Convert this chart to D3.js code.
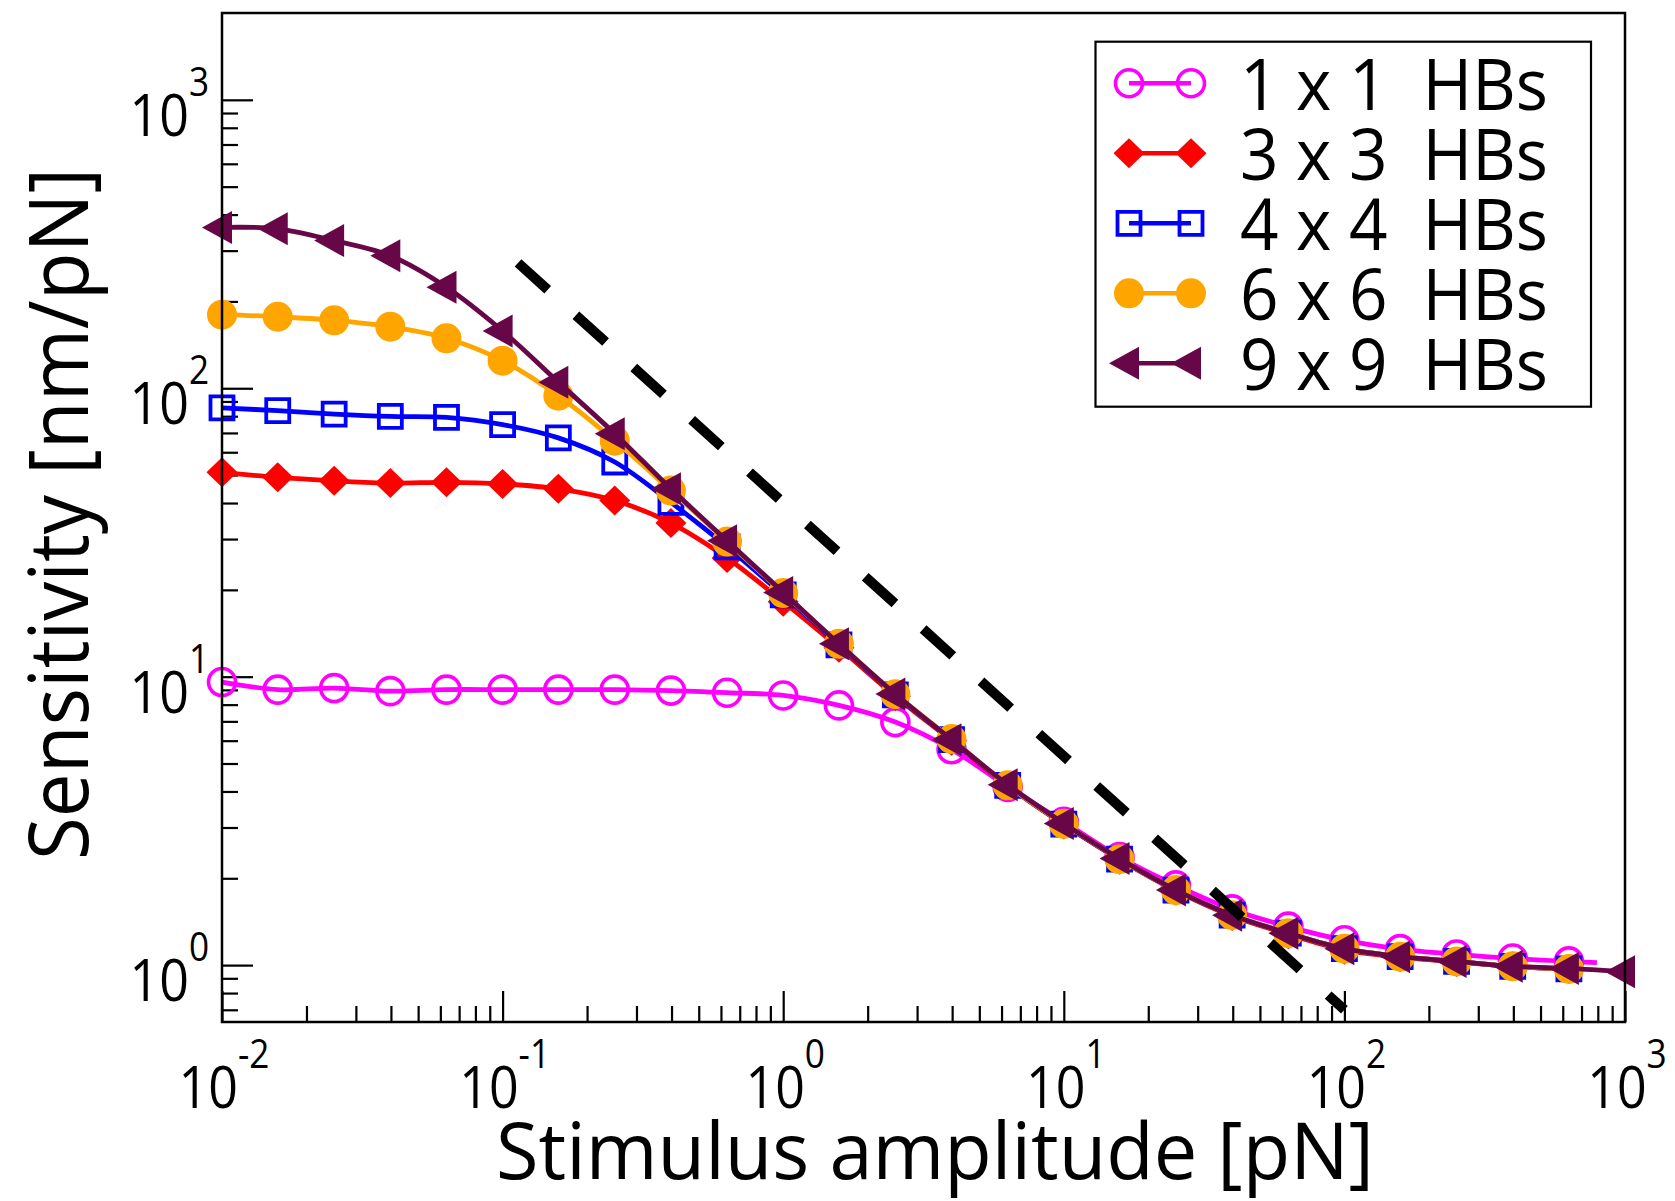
<!DOCTYPE html>
<html>
<head>
<meta charset="utf-8">
<script src="https://cdn.jsdelivr.net/npm/d3@7"></script>
<style>
  html, body { margin: 0; padding: 0; background: #fff; }
  svg { display: block; font-family: "Open Sans", "Noto Sans", sans-serif; }
</style>
</head>
<body>
<svg id="chart" width="1675" height="1201"></svg>
<script>
// Stimulus amplitudes [pN] (0.2-decade grid)
const amplitude = [0.01, 0.0158, 0.0251, 0.0398, 0.0631, 0.1, 0.158, 0.251, 0.398, 0.631,
                   1, 1.58, 2.51, 3.98, 6.31, 10, 15.8, 25.1, 39.8, 63.1,
                   100, 158, 251, 398, 631, 1000];

// Sensitivity [nm/pN] for each bundle array size
const sens1x1 = [9.58, 9.02, 9.13, 8.91, 9.02, 9.02, 9.02, 9.02, 8.95, 8.80,
                 8.61, 7.95, 6.96, 5.6, 4.15, 3.14, 2.37, 1.89, 1.56, 1.36,
                 1.22, 1.136, 1.089, 1.054, 1.03];
const tail1x1 = [794, 1.02];          // end of the 1 x 1 curve beyond its last symbol
const sens3x3 = [51.1, 49.1, 47.8, 46.9, 47.2, 46.6, 44.8, 40.8, 34.1, 25.8,
                 18.2, 12.6, 8.55, 6.0, 4.18, 3.07, 2.32, 1.81, 1.48, 1.28,
                 1.13, 1.065, 1.025, 0.99, 0.97];
const sens4x4 = [85.5, 83.6, 81.4, 79.9, 79.3, 74.8, 67.3, 55.5, 40.2, 28.2,
                 19.2, 12.9, 8.65, 6.05, 4.2, 3.08, 2.33, 1.82, 1.49, 1.29,
                 1.14, 1.07, 1.03, 0.99, 0.97];
const sens6x6 = [180, 177, 172, 163.5, 149, 124.6, 94.2, 65.8, 44.2, 29.4,
                 19.5, 13.0, 8.7, 6.08, 4.2, 3.09, 2.33, 1.82, 1.49, 1.29,
                 1.14, 1.07, 1.03, 0.99, 0.97];
const sens9x9 = [361, 357, 325, 288, 224, 158, 105, 69.6, 44.8, 29.6,
                 19.6, 13.0, 8.71, 6.05, 4.22, 3.10, 2.34, 1.82, 1.49, 1.29,
                 1.14, 1.07, 1.03, 0.99, 0.974, 0.948];

// Power-law guide (dashed)
const guideX = [0.1135, 100];
const guideY = [272, 0.70];

const seriesNames  = ["1 x 1  HBs", "3 x 3  HBs", "4 x 4  HBs", "6 x 6  HBs", "9 x 9  HBs"];
const seriesColors = ["#ff00ff", "#ff0000", "#0000ff", "#ffa500", "#670748"];
const seriesSymbols = ["circleOpen", "diamond", "squareOpen", "circleFilled", "triangleLeft"];

const xTickExps = [-2, -1, 0, 1, 2, 3];
const yTickExps = [0, 1, 2, 3];

const xTitle = "Stimulus amplitude [pN]";
const yTitle = "Sensitivity [nm/pN]";

// ---------------------------------------------------------------
const svg = d3.select("#chart");
const frame = { left: 222, right: 1625, top: 13, bottom: 1022 };

const x = d3.scaleLog().domain([0.01, 1000]).range([frame.left, frame.right]);
const y = d3.scaleLog().domain([0.635, 2000]).range([frame.bottom, frame.top]);

// minor tick values (2..9 per decade)
const xMinor = [], yMinor = [];
for (let e = -2; e < 3; e++) for (let k = 2; k <= 9; k++) xMinor.push(k * Math.pow(10, e));
for (let e = -1; e < 4; e++) for (let k = 2; k <= 9; k++) {
  const v = k * Math.pow(10, e);
  if (v >= 0.635 && v < 2000) yMinor.push(v);
}
const xMajor = xTickExps.map(e => Math.pow(10, e));
const yMajor = yTickExps.map(e => Math.pow(10, e));

function styleAxis(g) {
  g.select(".domain").remove();
  g.selectAll("line").attr("stroke", "#000").attr("stroke-width", 2.2);
  g.selectAll("text").remove();
}

// inward ticks on bottom and left axes
svg.append("g").attr("transform", `translate(0,${frame.bottom})`)
  .call(d3.axisBottom(x).tickValues(xMinor).tickSizeInner(-16).tickSizeOuter(0).tickFormat(""))
  .call(styleAxis);
svg.append("g").attr("transform", `translate(0,${frame.bottom})`)
  .call(d3.axisBottom(x).tickValues(xMajor).tickSizeInner(-31).tickSizeOuter(0).tickFormat(""))
  .call(styleAxis);
svg.append("g").attr("transform", `translate(${frame.left},0)`)
  .call(d3.axisLeft(y).tickValues(yMinor).tickSizeInner(-16).tickSizeOuter(0).tickFormat(""))
  .call(styleAxis);
svg.append("g").attr("transform", `translate(${frame.left},0)`)
  .call(d3.axisLeft(y).tickValues(yMajor).tickSizeInner(-31).tickSizeOuter(0).tickFormat(""))
  .call(styleAxis);

// power-of-ten tick labels
function powLabel(px, py, exp, anchor) {
  const g = svg.append("g").attr("transform", `translate(${px},${py}) scale(0.88,1)`);
  const t = g.append("text").attr("text-anchor", anchor).attr("fill", "#000");
  t.append("tspan").attr("font-size", 59).text("10");
  t.append("tspan").attr("font-size", 40).attr("dy", -40).text(exp < 0 ? "-" + (-exp) : String(exp));
}
xTickExps.forEach(e => powLabel(x(Math.pow(10, e)) + 2, frame.bottom + 86, e, "middle"));
yTickExps.forEach(e => powLabel(frame.left - 13, y(Math.pow(10, e)) + 36, e, "end"));

// axis titles
svg.append("text")
  .attr("x", 935).attr("y", 1179)
  .attr("text-anchor", "middle").attr("font-size", 79)
  .attr("textLength", 878).attr("lengthAdjust", "spacingAndGlyphs")
  .text(xTitle);
svg.append("text")
  .attr("transform", "translate(88,514) rotate(-90)")
  .attr("text-anchor", "middle").attr("font-size", 82)
  .attr("textLength", 692).attr("lengthAdjust", "spacingAndGlyphs")
  .text(yTitle);

// symbol shapes
function symbolPath(type, cx, cy) {
  switch (type) {
    case "circleOpen":
    case "circleFilled": {
      const r = type === "circleOpen" ? 13.5 : 15;
      return `M${cx + r},${cy}A${r},${r} 0 1,1 ${cx - r},${cy}A${r},${r} 0 1,1 ${cx + r},${cy}Z`;
    }
    case "diamond":
      return `M${cx - 15.5},${cy}L${cx},${cy - 15}L${cx + 15.5},${cy}L${cx},${cy + 15}Z`;
    case "squareOpen":
      return `M${cx - 11.5},${cy - 11.5}h23v23h-23Z`;
    case "triangleLeft":
      return `M${cx - 20},${cy}L${cx + 10},${cy - 16.5}L${cx + 10},${cy + 16.5}Z`;
  }
}
function drawSymbol(g, type, color, cx, cy) {
  const open = type === "circleOpen" || type === "squareOpen";
  g.append("path")
    .attr("d", symbolPath(type, cx, cy))
    .attr("fill", open ? "none" : color)
    .attr("stroke", open ? color : "none")
    .attr("stroke-width", type === "squareOpen" ? 3.8 : 3.6);
}

const curve = d3.line()
  .x(d => x(d[0])).y(d => y(d[1]))
  .curve(d3.curveCatmullRom.alpha(0.5));

const allSeries = [sens1x1, sens3x3, sens4x4, sens6x6, sens9x9];
const plot = svg.append("g");
allSeries.forEach((vals, si) => {
  const pts = vals.map((v, i) => [amplitude[i], v]);
  const linePts = si === 0 ? pts.concat([tail1x1]) : pts;
  plot.append("path")
    .attr("d", curve(linePts))
    .attr("fill", "none")
    .attr("stroke", seriesColors[si])
    .attr("stroke-width", 4.8)
    .attr("stroke-linejoin", "round");
  const gs = plot.append("g");
  pts.forEach(p => drawSymbol(gs, seriesSymbols[si], seriesColors[si], x(p[0]), y(p[1])));
});

// dashed guide line
svg.append("path")
  .attr("d", d3.line().x(d => x(d[0])).y(d => y(d[1]))(guideX.map((gx, i) => [gx, guideY[i]])))
  .attr("fill", "none")
  .attr("stroke", "#000")
  .attr("stroke-width", 10)
  .attr("stroke-dasharray", "40,38");

// frame
svg.append("rect")
  .attr("x", frame.left).attr("y", frame.top)
  .attr("width", frame.right - frame.left).attr("height", frame.bottom - frame.top)
  .attr("fill", "none").attr("stroke", "#000").attr("stroke-width", 2.5);

// legend
const legend = svg.append("g");
legend.append("rect")
  .attr("x", 1095.5).attr("y", 41.7).attr("width", 495.5).attr("height", 365)
  .attr("fill", "#fff").attr("stroke", "#000").attr("stroke-width", 2.2);
seriesNames.forEach((name, i) => {
  const cy = 83.3 + 70 * i;
  legend.append("line")
    .attr("x1", 1129).attr("x2", 1191).attr("y1", cy).attr("y2", cy)
    .attr("stroke", seriesColors[i]).attr("stroke-width", 4.5);
  drawSymbol(legend, seriesSymbols[i], seriesColors[i], 1129, cy);
  drawSymbol(legend, seriesSymbols[i], seriesColors[i], 1191, cy);
  legend.append("text")
    .attr("x", 1240).attr("y", cy + 26.7)
    .attr("font-size", 72)
    .attr("textLength", 308).attr("lengthAdjust", "spacingAndGlyphs")
    .style("white-space", "pre")
    .text(name);
});
</script>
</body>
</html>
